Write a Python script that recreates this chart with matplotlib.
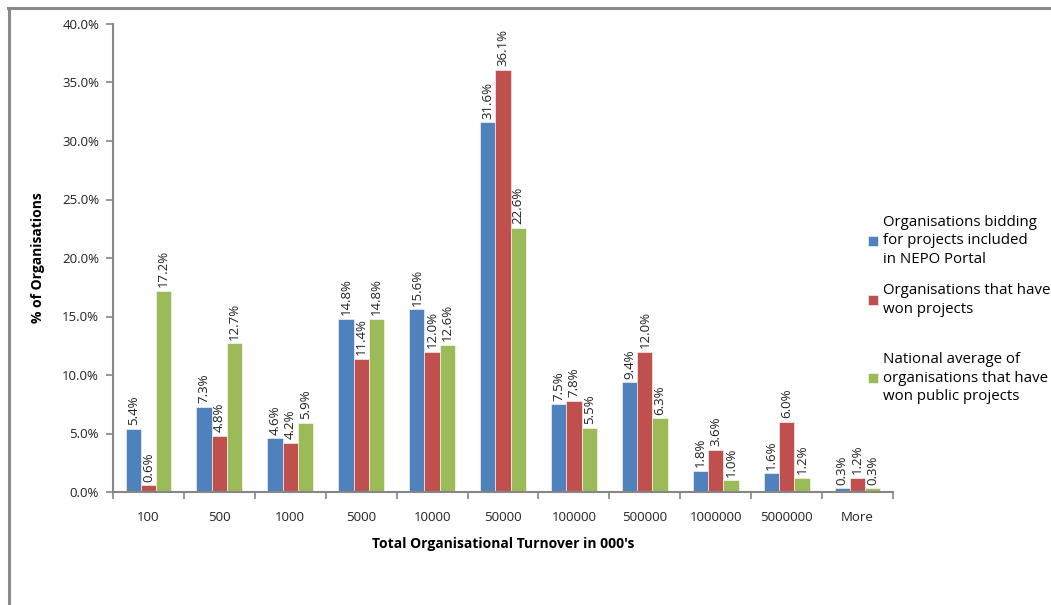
import matplotlib
matplotlib.use("Agg")
import matplotlib.pyplot as plt
import numpy as np
from matplotlib.lines import Line2D
from matplotlib.ticker import FixedLocator, PercentFormatter

plt.rcParams['font.family'] = ['Open Sans', 'DejaVu Sans']

categories = ["100", "500", "1000", "5000", "10000", "50000", "100000",
              "500000", "1000000", "5000000", "More"]
bidding = [5.4, 7.3, 4.6, 14.8, 15.6, 31.6, 7.5, 9.4, 1.8, 1.6, 0.3]
won = [0.6, 4.8, 4.2, 11.4, 12.0, 36.1, 7.8, 12.0, 3.6, 6.0, 1.2]
national = [17.2, 12.7, 5.9, 14.8, 12.6, 22.6, 5.5, 6.3, 1.0, 1.2, 0.3]
series_labels = ["Organisations bidding\nfor projects included\nin NEPO Portal",
                 "Organisations that have\nwon projects",
                 "National average of\norganisations that have\nwon public projects"]
colors = ["#4F81BD", "#C0504D", "#9BBB59"]

fig = plt.figure(figsize=(10.51, 6.05), dpi=100)
ax = fig.add_axes([113/1051, 1-492/605, (893-113)/1051, (492-24)/605])

x = np.arange(len(categories))
w = 0.215
handles = []
for i, (vals, c) in enumerate(zip([bidding, won, national], colors)):
    pos = x + (i - 1) * w
    b = ax.bar(pos, vals, width=w, color=c, edgecolor="white", linewidth=0.4)
    handles.append(b)
    for px, v in zip(pos, vals):
        ax.annotate(f"{v:.1f}%", (px, v), xytext=(0, 2.5), textcoords="offset points",
                    rotation=90, ha="center", va="bottom", fontsize=9.5, color="#222222")

ax.set_xlim(-0.5, len(categories) - 0.5)
ax.set_ylim(0, 40)
ax.yaxis.set_major_locator(FixedLocator(np.arange(0, 41, 5)))
ax.yaxis.set_major_formatter(PercentFormatter(decimals=1))
ax.set_xticks(x)
ax.set_xticklabels(categories)
ax.xaxis.set_minor_locator(FixedLocator(np.arange(-0.5, len(categories), 1)))
ax.tick_params(axis="x", which="major", length=0, pad=14, labelsize=9.5, colors="#222222")
ax.tick_params(axis="x", which="minor", length=5, width=1.2, color="#868686", direction="out")
ax.tick_params(axis="y", which="major", length=5, width=1.2, color="#868686",
               labelsize=9.5, labelcolor="#222222", pad=5)
for s in ["top", "right"]:
    ax.spines[s].set_visible(False)
for s in ["left", "bottom"]:
    ax.spines[s].set_color("#868686")
    ax.spines[s].set_linewidth(1.5)

ax.set_xlabel("Total Organisational Turnover in 000's", fontsize=10, fontweight="bold", labelpad=9)
ax.set_ylabel("% of Organisations", fontsize=10, fontweight="bold", labelpad=12)

legend_centers = [241, 300, 378]
for h, lab, cy in zip(handles, series_labels, legend_centers):
    leg = fig.legend([h], [lab], loc="center left", bbox_to_anchor=(868/1051, 1-cy/605),
                     frameon=False, fontsize=10.8, handlelength=0.65, handleheight=0.65,
                     handletextpad=0.35, borderaxespad=0, borderpad=0)
    for t in leg.get_texts():
        t.set_linespacing(1.35)

# outer frame
fig.add_artist(Line2D([8/1051, 1], [1-8/605, 1-8/605], color="#8a8a8a", lw=2.2,
                      transform=fig.transFigure))
fig.add_artist(Line2D([9/1051, 9/1051], [1-8/605, 0], color="#8a8a8a", lw=2.2,
                      transform=fig.transFigure))

fig.savefig("out.png", dpi=100)
